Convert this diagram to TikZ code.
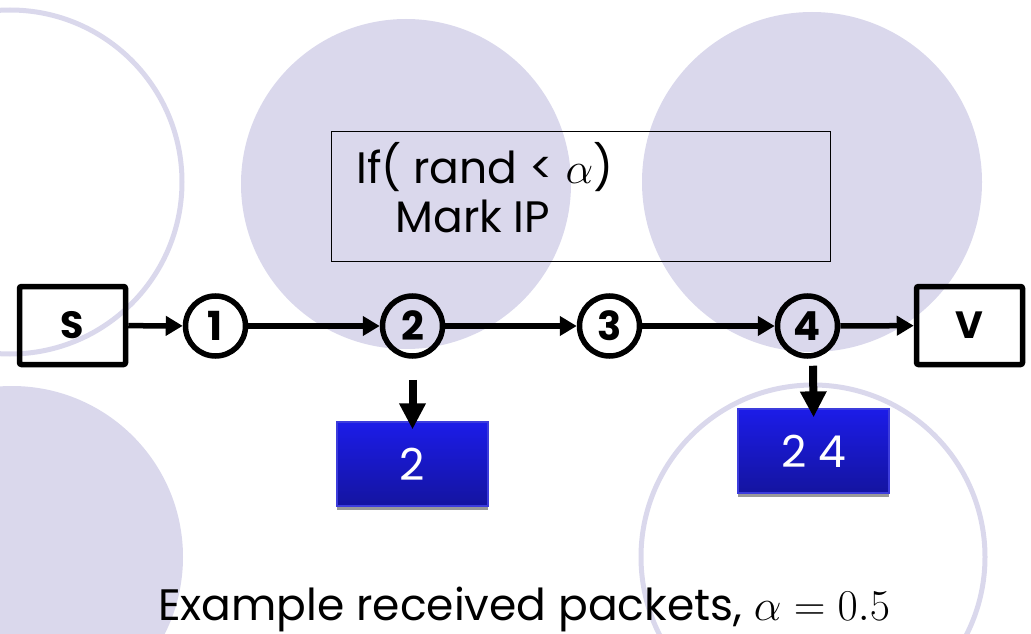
\RequirePackage{fix-cm}
\documentclass[tikz,border=0pt]{standalone}
\usepackage{fontspec}
\setmainfont{Poppins}
\usetikzlibrary{arrows.meta,shadows}
\definecolor{lav}{RGB}{218,216,236}
\definecolor{pkttop}{RGB}{28,28,232}
\definecolor{pktbot}{RGB}{20,20,160}
\definecolor{pktedge}{RGB}{60,60,220}
\newcommand{\fs}[1]{\fontsize{#1}{#1}\selectfont}
\begin{document}
\begin{tikzpicture}[x=1pt,y=-1pt,
  bgring/.style={draw=lav,line width=5pt},
  hop/.style={circle,draw,line width=5.5pt,minimum size=60pt,inner sep=0pt,font=\bfseries\fs{40}},
  endbox/.style={rectangle,draw,line width=5.5pt,minimum width=106pt,minimum height=78pt,rounded corners=2pt,inner sep=0pt,font=\bfseries\fs{38}},
  link/.style={-{Triangle[length=17pt,width=19pt]},line width=5.5pt},
  markarrow/.style={-{Triangle[length=26pt,width=25pt]},line width=8pt},
  pkt/.style={rectangle,draw=pktedge,line width=1.2pt,top color=pkttop,bottom color=pktbot,
    minimum width=151pt,minimum height=84pt,inner sep=0pt,text=white,font=\fs{44},
    drop shadow={shadow xshift=0pt,shadow yshift=-4pt,opacity=0.4,fill=black}},
  codebox/.style={rectangle,draw,line width=1.3pt,minimum width=499pt,minimum height=130pt,inner sep=0pt}
]
\useasboundingbox (0,0) rectangle (1031,634);

% decorative background discs and rings
\draw[bgring] (10,182) circle (172pt);
\fill[lav] (406,184) circle (165pt);
\fill[lav] (812,182) circle (170pt);
\fill[lav] (12,557) circle (171pt);
\draw[bgring] (813,557) circle (172pt);

% marking rule
\node[codebox] (rule) at (581,196.5) {};
\node[anchor=base west,font=\fs{44}] (cond) at (353,183) {If( rand < $\alpha$)};
\node[anchor=base west,font=\fs{44}] (act) at (392,232) {Mark IP};

% path from source to victim
\node[endbox] (S) at (72.5,325.5) {S};
\node[hop] (r1) at (215.5,326) {1};
\node[hop] (r2) at (412.5,326) {2};
\node[hop] (r3) at (609.5,326) {3};
\node[hop] (r4) at (807.5,326) {4};
\node[endbox] (V) at (969.5,325.5) {V};

\draw[link] (S) -- (r1);
\draw[link] (r1) -- (r2);
\draw[link] (r2) -- (r3);
\draw[link] (r3) -- (r4);
\draw[link] (r4) -- (V);

% received packets
\node[pkt] (p2) at (412.5,464) {2};
\node[pkt] (p24) at (813.5,451) {2 4};

\draw[markarrow,shorten >=-8pt] ([yshift=-21pt]r2.south) -- (p2.north);
\draw[markarrow,shorten >=-9pt] ([xshift=5.5pt,yshift=-7pt]r4.south) -- (p24.north);

\node[anchor=base,font=\fs{44}] (cap) at (524,620) {Example received packets, $\alpha = 0.5$};
\end{tikzpicture}
\end{document}
